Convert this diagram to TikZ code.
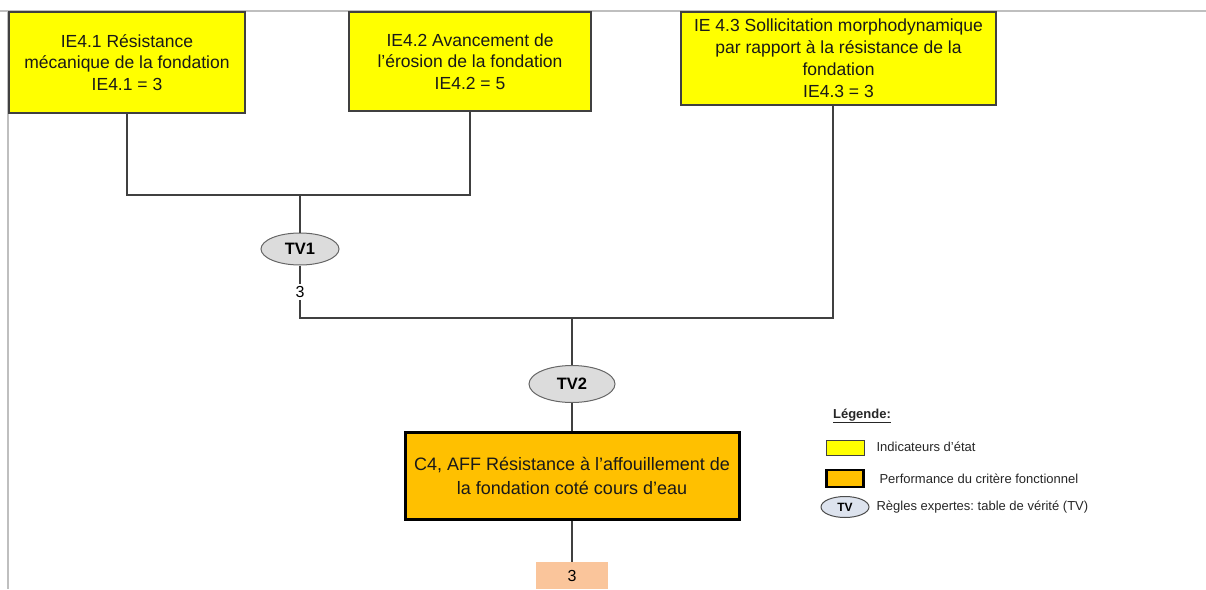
\documentclass[tikz,border=0pt]{standalone}
\usepackage{fontspec}
\setmainfont{Liberation Sans}
\usepackage{tikz}
\usetikzlibrary{positioning,shapes.geometric,calc}
\usepackage{xcolor}
\definecolor{ieyellow}{HTML}{FFFF00}
\definecolor{crorange}{HTML}{FFC000}
\definecolor{respeach}{HTML}{FAC59B}
\definecolor{tvgray}{HTML}{DCDCDC}
\definecolor{tvblue}{HTML}{DDE3EE}
\definecolor{wiregray}{HTML}{404040}
\frenchspacing

\begin{document}
\begin{tikzpicture}[x=1pt,y=-1pt,font=\fontsize{17.5}{21.5}\selectfont]
\tikzset{
  ie/.style={draw=wiregray,fill=ieyellow,line width=1.2pt,align=center,inner sep=0pt,text=black!90},
  crit/.style={draw=black,fill=crorange,line width=3pt,align=center,inner sep=0pt,text=black!90,font=\fontsize{18}{24}\selectfont},
  tv/.style={ellipse,draw=black!60,fill=tvgray,line width=1pt,inner sep=0pt,font=\fontsize{16.5}{18}\selectfont\bfseries},
  wire/.style={draw=wiregray,line width=1.3pt},
  legtxt/.style={anchor=west,font=\fontsize{13}{15}\selectfont,text=black!85}
}
\useasboundingbox (0,0) rectangle (1206,589);
% page frame
\draw[black!25,line width=2pt] (0,11) -- (1206,11);
\draw[black!25,line width=2pt] (7.5,11) -- (7.5,589);

% Etat indicators
\node[ie,minimum width=236,minimum height=101] (ie41) at (127,62.5) {IE4.1 Résistance\\mécanique de la fondation\\IE4.1 = 3};
\node[ie,minimum width=242,minimum height=99] (ie42) at (470,61.5) {IE4.2 Avancement de\\l’érosion de la fondation\\IE4.2 = 5};
\node[ie,minimum width=315,minimum height=93,font=\fontsize{17.5}{22}\selectfont] (ie43) at (838.5,58.5) {IE 4.3 Sollicitation morphodynamique\\par rapport à la résistance de la\\fondation\\IE4.3 = 3};

% Truth tables
\coordinate (j1) at (300,195);
\coordinate (j2) at (572,318);
\coordinate (j3) at (833,318);
\node[tv,minimum width=78,minimum height=32] (tv1) at (300,249) {TV1};
\node[inner sep=2pt,font=\fontsize{16}{18}\selectfont] (val1) at (300,292) {3};
\node[tv,minimum width=86,minimum height=37] (tv2) at (572,384) {TV2};

\draw[wire] (ie41.south) |- (j1) -| (ie42.south);
\draw[wire] (j1) -- (tv1.north);
\draw[wire] (tv1.south) -- (val1.north);
\draw[wire] (val1.south) |- (j3) -- (ie43.south -| j3);
\draw[wire] (j2) -- (tv2.north);

% Functional criterion
\node[crit,minimum width=334,minimum height=87] (c4) at (572,475.5) {C4, AFF Résistance à l’affouillement de\\la fondation coté cours d’eau};
\node[fill=respeach,minimum width=72,minimum height=27,inner sep=0pt,font=\fontsize{16}{18}\selectfont] (res) at (572,575.5) {3};
\draw[wire] (tv2.south) -- (c4.north);
\draw[wire] (c4.south) -- (res.north);

% Legend
\node[font=\fontsize{13}{15}\selectfont\bfseries,text=black!85] (legtitle) at (862,416) {\underline{Légende:}};
\node[draw=wiregray,fill=ieyellow,line width=1pt,minimum width=38,minimum height=15,inner sep=0pt] (legie) at (845,447.5) {};
\node[legtxt] (legietxt) at (873,447) {Indicateurs d’état};
\node[draw=black,fill=crorange,line width=2.5pt,minimum width=37,minimum height=17,inner sep=0pt] (legcr) at (845,478.5) {};
\node[legtxt] (legcrtxt) at (876,479) {Performance du critère fonctionnel};
\node[ellipse,draw=black!70,fill=tvblue,line width=1pt,minimum width=48,minimum height=21,inner sep=0pt,font=\fontsize{12}{14}\selectfont\bfseries] (legtv) at (845,507) {TV};
\node[legtxt] (legtvtxt) at (873,507) {Règles expertes: table de vérité (TV)};
\end{tikzpicture}
\end{document}
